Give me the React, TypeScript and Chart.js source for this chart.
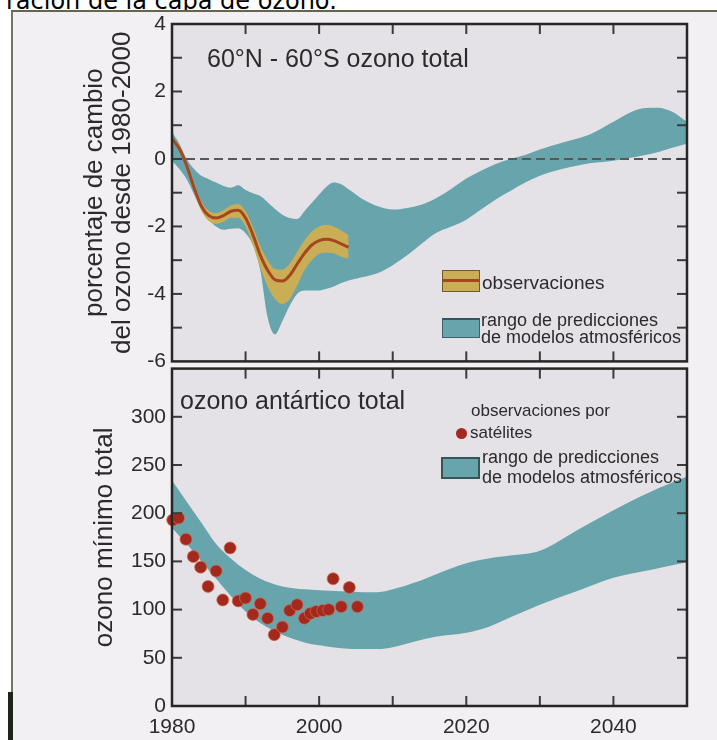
import React, { useEffect, useRef } from 'react';
import { Chart, registerables } from 'chart.js';

Chart.register(...registerables);

const FONT = "'Liberation Sans', Arial, Helvetica, sans-serif";

// ---------- top panel: 60°N-60°S total ozone (% change) ----------
const modelYears = [1980, 1981, 1982, 1983, 1984, 1985, 1986, 1987, 1988, 1989, 1990, 1991, 1992, 1993, 1994, 1995, 1996, 1997, 1998, 1999, 2000, 2001, 2002, 2003, 2004, 2005, 2006, 2008, 2010, 2012, 2014, 2016, 2018, 2020, 2022, 2024, 2026, 2028, 2030, 2033, 2035, 2037, 2040, 2042, 2044, 2046, 2048, 2050];
const modelUpper = [0.8, 0.45, 0.0, -0.3, -0.5, -0.6, -0.7, -0.8, -0.85, -0.78, -0.92, -1.02, -1.1, -1.28, -1.48, -1.65, -1.75, -1.78, -1.55, -1.3, -1.05, -0.82, -0.7, -0.75, -0.9, -1.05, -1.2, -1.4, -1.5, -1.45, -1.35, -1.15, -0.88, -0.58, -0.35, -0.15, 0.0, 0.12, 0.28, 0.48, 0.6, 0.75, 1.1, 1.35, 1.5, 1.52, 1.4, 1.1];
const modelLower = [-0.05, -0.3, -0.6, -1.05, -1.5, -1.8, -2.0, -2.1, -2.07, -2.05, -2.2, -2.55, -3.3, -4.7, -5.2, -4.8, -4.35, -4.0, -3.9, -3.9, -3.9, -3.85, -3.78, -3.68, -3.6, -3.55, -3.5, -3.38, -3.15, -2.85, -2.5, -2.18, -2.0, -1.8, -1.5, -1.2, -0.95, -0.7, -0.5, -0.3, -0.2, -0.12, -0.05, 0.02, 0.1, 0.2, 0.33, 0.45];

const obsYears = [1980, 1981, 1982, 1983, 1984, 1985, 1986, 1987, 1988, 1989, 1990, 1991, 1992, 1993, 1994, 1995, 1996, 1997, 1998, 1999, 2000, 2001, 2002, 2003, 2004];
const obsMean = [0.6, 0.3, -0.2, -0.85, -1.4, -1.68, -1.75, -1.68, -1.55, -1.52, -1.75, -2.25, -2.85, -3.3, -3.58, -3.62, -3.45, -3.12, -2.8, -2.55, -2.42, -2.38, -2.42, -2.52, -2.62];
const obsHigh = [0.66, 0.38, -0.1, -0.72, -1.26, -1.54, -1.6, -1.52, -1.38, -1.34, -1.55, -2.02, -2.58, -3.0, -3.26, -3.28, -3.1, -2.76, -2.42, -2.15, -2.0, -1.96, -2.0, -2.12, -2.26];
const obsLow = [0.54, 0.22, -0.3, -0.98, -1.54, -1.84, -1.92, -1.86, -1.74, -1.74, -2.0, -2.54, -3.22, -3.78, -4.15, -4.3, -4.15, -3.75, -3.3, -3.0, -2.82, -2.78, -2.8, -2.9, -2.96];

const refYears = [1980, 2050];
const refValues = [0, 0];

// ---------- bottom panel: Antarctic minimum total ozone ----------
const antYears = [1980, 1982, 1984, 1986, 1988, 1990, 1992, 1995, 1998, 2000, 2003, 2006, 2008, 2010, 2013, 2016, 2020, 2023, 2026, 2030, 2035, 2040, 2045, 2050];
const antUpper = [234, 212, 190, 168, 153, 141, 132, 124, 121, 120, 119, 118, 118, 121, 128, 137, 148, 153, 156, 161, 182, 203, 222, 238];
const antLower = [185, 168, 150, 132, 114, 98, 86, 74, 66, 63, 60, 59, 59, 61, 67, 72, 76, 82, 92, 105, 119, 133, 141, 149];

const satYears = [1980.1, 1980.9, 1981.9, 1982.9, 1983.9, 1984.9, 1986.0, 1986.9, 1987.9, 1989.0, 1990.0, 1991.0, 1992.0, 1993.0, 1993.9, 1995.0, 1996.0, 1997.0, 1998.0, 1998.8, 1999.6, 2000.5, 2001.3, 2001.9, 2003.0, 2004.1, 2005.2];
const satValues = [193, 195, 173, 155, 144, 124, 140, 110, 164, 109, 112, 95, 106, 91, 74, 82, 99, 105, 91, 96, 98, 99, 100, 132, 103, 123, 103];

// ---------- axes ----------
const xRange = [1980, 2050];
const xLabelYears = [1980, 2000, 2020, 2040];
const topRange = [-6, 4];
const topLabelValues = [4, 2, 0, -2, -4, -6];
const botRange = [0, 350];
const botLabelValues = [0, 50, 100, 150, 200, 250, 300];

const TEAL = '#68a4ac';
const MUSTARD = '#c9ae55';
const RUST = '#a5461e';
const DOT = '#a3281e';
const PLOT_BG = '#e4e2e6';
const TEXT = '#2b2b2b';

const pts = (xs: number[], ys: number[]) => xs.map((x, i) => ({ x, y: ys[i] }));

const frameTicks = {
  id: 'frameTicks',
  beforeDraw(chart: any) {
    const { ctx, chartArea: a } = chart;
    ctx.save();
    ctx.fillStyle = PLOT_BG;
    ctx.fillRect(a.left, a.top, a.right - a.left, a.bottom - a.top);
    ctx.restore();
  },
  afterDraw(chart: any) {
    const { ctx, chartArea: a, scales } = chart;
    const L = 10;
    ctx.save();
    ctx.strokeStyle = '#3a3a3a';
    ctx.lineWidth = 2;
    const seg = (x1: number, y1: number, x2: number, y2: number) => {
      ctx.beginPath(); ctx.moveTo(x1, y1); ctx.lineTo(x2, y2); ctx.stroke();
    };
    const xs = scales.x;
    const ys = scales.y;
    (xs.ticks || []).forEach((t: any) => {
      const p = xs.getPixelForValue(t.value);
      if (p <= a.left + 1 || p >= a.right - 1) return;
      seg(p, a.bottom, p, a.bottom - L);
      seg(p, a.top, p, a.top + L);
    });
    (ys.ticks || []).forEach((t: any) => {
      const p = ys.getPixelForValue(t.value);
      if (p <= a.top + 1 || p >= a.bottom - 1) return;
      seg(a.left, p, a.left + L, p);
      seg(a.right, p, a.right - L, p);
    });
    ctx.lineWidth = 2.5;
    ctx.strokeStyle = '#262626';
    ctx.strokeRect(a.left, a.top, a.right - a.left, a.bottom - a.top);
    ctx.restore();
  },
};

function Txt(props: { x: number; cy: number; size: number; children: any; color?: string; family?: string }) {
  const { x, cy, size, children, color, family } = props;
  return (
    <div
      style={{
        position: 'absolute',
        left: x,
        top: cy - size * 0.6,
        fontSize: size,
        lineHeight: `${size * 1.2}px`,
        whiteSpace: 'nowrap',
        color: color || TEXT,
        fontFamily: family || FONT,
        zIndex: 5,
      }}
    >
      {children}
    </div>
  );
}

export default function App() {
  const topRef = useRef<HTMLCanvasElement>(null);
  const botRef = useRef<HTMLCanvasElement>(null);

  useEffect(() => {
    const tickFont = { family: FONT, size: 21 };
    const titleFont = { family: FONT, size: 26, lineHeight: 28 / 26 };

    const top = new Chart(topRef.current as HTMLCanvasElement, {
      type: 'line',
      data: {
        datasets: [
          {
            data: pts(refYears, refValues),
            borderColor: '#55585a',
            borderWidth: 2,
            borderDash: [9, 5],
            pointRadius: 0,
            fill: false,
          },
          {
            data: pts(obsYears, obsMean),
            borderColor: RUST,
            borderWidth: 3,
            pointRadius: 0,
            cubicInterpolationMode: 'monotone',
            fill: false,
          },
          {
            data: pts(obsYears, obsHigh),
            borderWidth: 0,
            borderColor: 'rgba(0,0,0,0)',
            backgroundColor: MUSTARD,
            pointRadius: 0,
            cubicInterpolationMode: 'monotone',
            fill: 3,
          },
          {
            data: pts(obsYears, obsLow),
            borderWidth: 0,
            borderColor: 'rgba(0,0,0,0)',
            pointRadius: 0,
            cubicInterpolationMode: 'monotone',
            fill: false,
          },
          {
            data: pts(modelYears, modelUpper),
            borderWidth: 0,
            borderColor: 'rgba(0,0,0,0)',
            backgroundColor: TEAL,
            pointRadius: 0,
            cubicInterpolationMode: 'monotone',
            fill: 5,
          },
          {
            data: pts(modelYears, modelLower),
            borderWidth: 0,
            borderColor: 'rgba(0,0,0,0)',
            pointRadius: 0,
            cubicInterpolationMode: 'monotone',
            fill: false,
          },
        ],
      } as any,
      options: {
        animation: false,
        responsive: false,
        events: [],
        layout: { padding: { left: 81, top: 24, right: 30, bottom: 14 } },
        plugins: { legend: { display: false }, tooltip: { enabled: false } },
        scales: {
          x: {
            type: 'linear',
            min: xRange[0],
            max: xRange[1],
            display: true,
            ticks: { display: false, stepSize: 10 },
            grid: { display: false, drawTicks: false },
            border: { display: false },
            afterFit: (s: any) => { s.height = 0; },
          },
          y: {
            type: 'linear',
            min: topRange[0],
            max: topRange[1],
            ticks: {
              stepSize: 1,
              padding: 6,
              color: TEXT,
              font: tickFont,
              callback: (v: any) => (topLabelValues.includes(Number(v)) ? String(v) : ''),
            },
            grid: { display: false, drawTicks: false },
            border: { display: false },
            title: {
              display: true,
              text: ['porcentaje de cambio', 'del ozono desde 1980-2000'],
              color: TEXT,
              font: titleFont,
              padding: { top: 0, bottom: 0 },
            },
            afterFit: (s: any) => { s.width = 172 - 81; },
          },
        },
      } as any,
      plugins: [frameTicks],
    });

    const bot = new Chart(botRef.current as HTMLCanvasElement, {
      type: 'line',
      data: {
        datasets: [
          {
            data: pts(satYears, satValues),
            showLine: false,
            pointRadius: 6,
            pointBackgroundColor: DOT,
            pointBorderColor: 'rgba(205,110,80,0.7)',
            pointBorderWidth: 1,
            clip: false,
            fill: false,
          },
          {
            data: pts(antYears, antUpper),
            borderWidth: 0,
            borderColor: 'rgba(0,0,0,0)',
            backgroundColor: TEAL,
            pointRadius: 0,
            cubicInterpolationMode: 'monotone',
            fill: 2,
          },
          {
            data: pts(antYears, antLower),
            borderWidth: 0,
            borderColor: 'rgba(0,0,0,0)',
            pointRadius: 0,
            cubicInterpolationMode: 'monotone',
            fill: false,
          },
        ],
      } as any,
      options: {
        animation: false,
        responsive: false,
        events: [],
        layout: { padding: { left: 91, top: 16, right: 30, bottom: 0 } },
        plugins: { legend: { display: false }, tooltip: { enabled: false } },
        scales: {
          x: {
            type: 'linear',
            min: xRange[0],
            max: xRange[1],
            ticks: {
              stepSize: 10,
              autoSkip: false,
              maxRotation: 0,
              padding: 9,
              color: TEXT,
              font: tickFont,
              callback: (v: any) => (xLabelYears.includes(Number(v)) ? String(v) : ''),
            },
            grid: { display: false, drawTicks: false },
            border: { display: false },
            afterFit: (s: any) => { s.height = 34; },
          },
          y: {
            type: 'linear',
            min: botRange[0],
            max: botRange[1],
            ticks: {
              stepSize: 50,
              padding: 6,
              color: TEXT,
              font: tickFont,
              callback: (v: any) => (botLabelValues.includes(Number(v)) ? String(v) : ''),
            },
            grid: { display: false, drawTicks: false },
            border: { display: false },
            title: {
              display: true,
              text: 'ozono mínimo total',
              color: TEXT,
              font: titleFont,
              padding: { top: 0, bottom: 0 },
            },
            afterFit: (s: any) => { s.width = 172 - 91; },
          },
        },
      } as any,
      plugins: [frameTicks],
    });

    return () => {
      top.destroy();
      bot.destroy();
    };
  }, []);

  return (
    <div style={{ position: 'absolute', left: 0, top: 0, width: 717, height: 740, overflow: 'hidden', background: '#ffffff', fontFamily: FONT }}>
      <div
        style={{
          position: 'absolute', left: 6, top: -13, fontFamily: "'DejaVu Sans', Verdana, sans-serif",
          fontSize: 24, lineHeight: '28px', color: '#000', whiteSpace: 'nowrap', zIndex: 0,
        }}
      >
        ración de la capa de ozono.
      </div>
      <div
        style={{
          position: 'absolute', left: 11, top: 10, width: 706, height: 730, boxSizing: 'border-box',
          background: '#f2f0f2', borderTop: '2px solid #66664f', borderLeft: '2px solid #74746a', zIndex: 1,
        }}
      />
      <div style={{ position: 'absolute', left: 8, top: 692, width: 5, height: 48, background: '#1f241a', zIndex: 1 }} />
      <canvas ref={topRef} width={717} height={380} style={{ position: 'absolute', left: 0, top: 0, zIndex: 2 }} />
      <canvas ref={botRef} width={717} height={390} style={{ position: 'absolute', left: 0, top: 350, zIndex: 3 }} />

      {/* top panel annotations */}
      <Txt x={207} cy={58} size={25}>60°N - 60°S ozono total</Txt>
      <div style={{ position: 'absolute', left: 442, top: 270, width: 38, height: 22, boxSizing: 'border-box', background: MUSTARD, border: '1px solid #6e5a2c', zIndex: 5 }}>
        <div style={{ position: 'absolute', left: 0, right: 0, top: 8, height: 3, background: RUST }} />
      </div>
      <Txt x={482} cy={283} size={19}>observaciones</Txt>
      <div style={{ position: 'absolute', left: 442, top: 318, width: 38, height: 20, boxSizing: 'border-box', background: TEAL, border: '1px solid #3d6268', borderTop: '2px solid #34555a', zIndex: 5 }} />
      <Txt x={481} cy={321} size={18}>rango de predicciones</Txt>
      <Txt x={481} cy={338} size={18}>de modelos atmosféricos</Txt>

      {/* bottom panel annotations */}
      <Txt x={180} cy={400} size={25}>ozono antártico total</Txt>
      <Txt x={471} cy={411} size={17}>observaciones por</Txt>
      <div style={{ position: 'absolute', left: 456, top: 428, width: 11, height: 11, borderRadius: '50%', background: DOT, zIndex: 5 }} />
      <Txt x={470} cy={433} size={17}>satélites</Txt>
      <div style={{ position: 'absolute', left: 441, top: 457, width: 39, height: 22, boxSizing: 'border-box', background: TEAL, border: '2px solid #34555a', zIndex: 5 }} />
      <Txt x={482} cy={458} size={18}>rango de predicciones</Txt>
      <Txt x={482} cy={478} size={18}>de modelos atmosféricos</Txt>
    </div>
  );
}
